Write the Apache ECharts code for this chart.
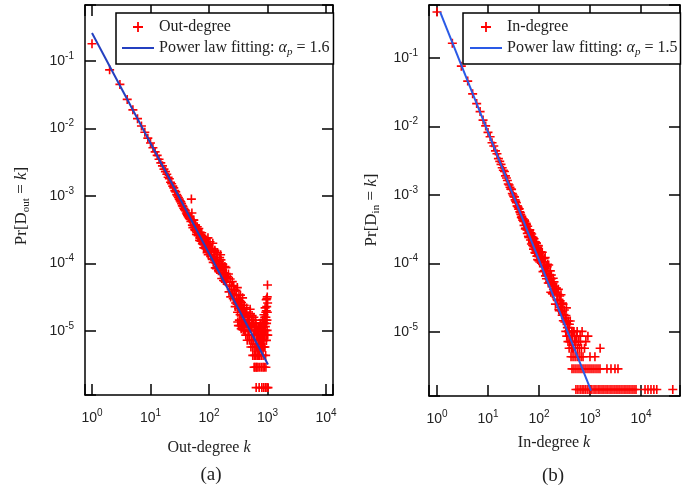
<!DOCTYPE html>
<html><head><meta charset="utf-8">
<script src="https://cdn.jsdelivr.net/npm/echarts@6.0.0/dist/echarts.min.js"></script>
<style>html,body{margin:0;padding:0;background:#fff}#c{width:690px;height:487px}</style>
</head><body><div id="c"></div>
<script>
// ---------- data ----------
const outDegree = [
[1,0.18],[2,0.074],[3,0.045],[4,0.027],[5,0.0189],[6,0.014],[7,0.0109],[8,0.0088],[9,0.0072],[10,0.0061],
[11,0.0052],[12,0.0045],[13,0.0040],[14,0.0035],[15,0.0031],[16,0.0028],[17,0.0025],[18,0.0023],[19,0.0021],[20,0.0019],
[21,0.0018],[22,0.0016],[23,0.00152],[24,0.0014],[25,0.00132],[26,0.0012],[27,0.00115],[28,0.00105],[29,0.0010],[30,0.00095],
[31,0.0009],[32,0.00085],[33,0.00082],[34,0.00077],[35,0.00072],[36,0.0007],[37,0.00066],[38,0.00063],[39,0.00062],[40,0.0006],
[41,0.00056],[42,0.00054],[43,0.00052],[44,0.0005],[45,0.00049],[46,0.00047],[47,0.00046],[48,0.00045],[49,0.00042],
[50,9.0e-4],[51,5.6e-4],[52,3.7e-4],[54,4.4e-4],[56,3.6e-4],[58,3.1e-4],[60,3.5e-4],[62,2.9e-4],[64,3.1e-4],[66,2.6e-4],
[68,2.9e-4],[70,2.4e-4],[72,2.7e-4],[74,2.2e-4],[76,2.5e-4],[78,2.0e-4],[80,2.3e-4],[82,1.9e-4],[84,2.2e-4],[86,1.75e-4],
[88,2.1e-4],[90,1.8e-4],[92,2.0e-4],[94,1.55e-4],[96,2.4e-4],[98,1.7e-4],[100,1.6e-4],
[104,2.1e-4],[106,1.6e-4],[108,1.26e-4],[112,1.66e-4],[116,2.0e-4],[118,1.04e-4],[120,1.17e-4],[124,1.5e-4],[128,8.6e-5],
[132,1.45e-4],[136,1.08e-4],[140,1.45e-4],[142,8.9e-5],[145,7.8e-5],[150,1.07e-4],[155,8.4e-5],[158,1.35e-4],[160,1.13e-4],
[165,6.0e-5],[170,9.0e-5],[175,7.2e-5],[180,8.8e-5],[185,5.5e-5],[190,7.0e-5],[195,8.7e-5],[200,5.3e-5],[210,6.4e-5],
[220,3.8e-5],[230,5.9e-5],[240,4.1e-5],[250,5.4e-5],[260,3.0e-5],[270,4.1e-5],[280,2.3e-5],[290,4.0e-5],[300,2.9e-5],
[305,4.4e-5],[310,1.36e-5],[315,2.9e-5],[320,2.15e-5],[325,3.4e-5],[330,1.45e-5],[335,2.8e-5],[340,1.75e-5],[345,3.4e-5],
[350,2.03e-5],[355,1.08e-5],[360,2.65e-5],[365,1.73e-5],[370,1.27e-5],[375,3.1e-5],[380,1.94e-5],[385,1.04e-5],[390,2.1e-5],
[395,1.37e-5],[400,2.4e-5],[410,1.0e-5],[420,1.8e-5],[430,1.33e-5],[440,2.2e-5],[450,7.3e-6],[460,1.45e-5],[470,1.0e-5],
[480,1.67e-5],[490,7.3e-6],[500,1.16e-5],[510,1.8e-5],[520,5.8e-6],[530,1.16e-5],[540,7.25e-6],[550,1.3e-5],[560,4.35e-6],
[570,8.7e-6],[580,1.3e-5],[590,5.8e-6],[600,8.7e-6],[610,2.9e-6],[620,1.02e-5],[630,4.35e-6],[640,7.25e-6],[650,1.16e-5],
[660,2.9e-6],[670,5.8e-6],[680,8.7e-6],[690,4.35e-6],[700,7.25e-6],
[710,5.8e-6],[720,1.0e-5],[730,4.35e-6],[740,7.25e-6],[750,1.3e-5],[760,5.8e-6],[770,8.7e-6],[780,4.35e-6],[790,1.16e-5],
[800,7.25e-6],[810,5.8e-6],[820,1.45e-5],[830,8.7e-6],[840,4.35e-6],[850,1.02e-5],[860,7.25e-6],[870,1.74e-5],[880,5.8e-6],
[890,1.3e-5],[900,8.7e-6],[910,2.2e-5],[920,1.16e-5],[930,4.35e-6],[940,1.6e-5],[950,2.9e-5],[955,2.0e-5],[960,7.25e-6],
[965,1.3e-5],[970,2.3e-5],[975,3.0e-5],[980,1.45e-5],[985,1.02e-5],[990,3.2e-5],[995,1.9e-5],[1000,4.8e-5],[1005,2.6e-5],[1010,8.7e-6]
];
const outDegreeMore = [
[53,3.4e-4],[55,4.4e-4],[57,3.2e-4],[59,3.7e-4],[61,2.7e-4],[63,3.5e-4],[65,2.6e-4],[67,3.3e-4],[69,2.2e-4],[71,2.9e-4],
[73,2.15e-4],[75,2.85e-4],[77,1.97e-4],[79,2.5e-4],[81,1.71e-4],[83,2.3e-4],[85,1.68e-4],[87,2.3e-4],[89,1.64e-4],[91,2.1e-4],
[93,1.45e-4],[95,1.86e-4],[97,1.35e-4],[99,1.9e-4],[102,1.52e-4],[110,1.6e-4],[114,1.15e-4],[122,1.35e-4],[126,1.57e-4],
[130,1.12e-4],[134,8.4e-5],[138,1.22e-4],[147,9.9e-5],[152,1.22e-4],[157,7.2e-5],[162,9.1e-5],[167,7.4e-5],[172,9.7e-5],
[177,5.6e-5],[182,7.0e-5],[187,9.0e-5],[192,6.2e-5],[197,7.1e-5],[205,6.0e-5],[215,7.0e-5],[225,4.8e-5],[235,3.2e-5],
[245,4.6e-5],[255,3.6e-5],[265,4.7e-5],[275,3.4e-5],[285,2.6e-5],[295,3.4e-5],[302,2.5e-5],
[308,1.9e-5],[318,1.2e-5],[328,2.4e-5],[338,1.2e-5],[348,2.5e-5],[358,1.45e-5],[368,2.2e-5],[378,1.16e-5],[388,1.6e-5],
[398,1.16e-5],[405,1.6e-5],[415,1.3e-5],[425,8.7e-6],[435,1.9e-5],[445,1.16e-5],[455,1.6e-5],[465,8.7e-6],[475,1.3e-5],
[485,1.02e-5],[495,1.45e-5],[505,2.1e-5],[515,1.16e-5],[525,7.25e-6],[535,1.45e-5],[545,1.7e-5],[555,5.8e-6],[565,1.16e-5],
[575,7.25e-6],[585,1.6e-5],[595,4.35e-6],[605,1.16e-5],[615,5.8e-6],[625,1.45e-5],[635,1.3e-5],[645,5.8e-6],[655,8.7e-6],
[665,4.35e-6],[675,1.02e-5],[685,5.8e-6],[695,1.16e-5],
[705,8.7e-6],[715,4.35e-6],[725,1.16e-5],[735,7.25e-6],[745,5.8e-6],[755,1.02e-5],[765,7.25e-6],[775,1.3e-5],[785,5.8e-6],
[795,8.7e-6],[805,1.02e-5],[815,7.25e-6],[825,5.8e-6],[835,1.16e-5],[845,7.25e-6],[855,5.8e-6],[865,1.3e-5],[875,8.7e-6],
[885,1.02e-5],[895,1.6e-5],[905,5.8e-6],[915,1.45e-5],[925,1.02e-5],[935,1.9e-5],[945,8.7e-6]
];
// degrees seen at the lowest probability levels (one, two ... nodes)
const outFloorP = [1.45e-6, 2.9e-6];
const outFloorK = [
  [640,720,800,860,920,980,1020],
  [590,640,690,740,790,840,880,940]
];
const outFit = [[1,0.26],[1020,3.2e-6]];

const inDegree = [
[1,0.47],[2,0.164],[3,0.076],[4,0.046],[5,0.0300],[6,0.0216],[7,0.0165],[8,0.0124],[9,0.0102],[10,0.0082],
[11,0.0071],[12,0.0058],[13,0.0052],[14,0.0044],[15,0.0040],[16,0.0034],[17,0.0031],[18,0.0028],[19,0.0025],[20,0.0023],
[21,0.0022],[22,0.0019],[23,0.00177],[24,0.00163],[25,0.00145],[26,0.0014],[27,0.0013],[28,0.00122],[29,0.00121],[30,0.00105],
[31,0.0010],[32,0.00095],[33,0.00094],[34,0.00085],[35,0.00081],[36,0.00077],[37,0.00069],[38,0.00069],[39,0.00066],[40,0.00062],
[41,0.00063],[42,0.00057],[43,0.00055],[44,0.00052],[45,0.00047],[46,0.00049],[47,0.00046],[48,0.00043],[49,0.00045],[50,0.00041],
[52,4.3e-4],[54,3.2e-4],[56,3.85e-4],[58,3.1e-4],[60,3.5e-4],[62,2.5e-4],[64,2.85e-4],[66,3.1e-4],[68,2.2e-4],[70,2.5e-4],
[72,2.7e-4],[74,2.0e-4],[76,2.25e-4],[78,1.62e-4],[80,2.3e-4],[82,1.8e-4],[84,2.05e-4],[86,1.42e-4],[88,2.0e-4],[90,1.52e-4],
[92,1.72e-4],[94,1.14e-4],[96,1.83e-4],[98,1.35e-4],[100,1.47e-4],[104,1.05e-4],[108,1.47e-4],[112,1.1e-4],[116,1.46e-4],
[120,7.6e-5],[124,1.06e-4],[128,7.9e-5],[132,1.22e-4],[136,8.3e-5],[140,6.0e-5],[145,9.0e-5],[150,6.6e-5],[155,9.5e-5],
[160,5.2e-5],[165,6.7e-5],[170,3.8e-5],[175,6.8e-5],[180,4.9e-5],[185,3.6e-5],[190,6.1e-5],[195,3.9e-5],[200,4.65e-5],
[210,2.55e-5],[220,4.4e-5],[230,2.9e-5],[240,4.2e-5],[250,2.05e-5],[260,2.85e-5],[270,3.5e-5],[280,2.0e-5],[290,2.65e-5],
[300,1.46e-5],[315,2.1e-5],[330,1.6e-5],[345,2.25e-5],[360,1.16e-5],[375,1.45e-5],[390,1.16e-5],[400,7.25e-6],[410,1.45e-5],
[425,8.7e-6],[440,1.02e-5],[460,5.8e-6],[480,1.02e-5],[500,7.25e-6]
];
const inDegreeMore = [
[51,3.6e-4],[53,4.1e-4],[55,3.3e-4],[57,3.7e-4],[59,2.75e-4],[61,3.1e-4],[63,2.4e-4],[65,3.0e-4],[67,2.4e-4],[69,2.8e-4],
[71,1.93e-4],[73,2.45e-4],[75,1.84e-4],[77,2.4e-4],[79,1.76e-4],[81,2.1e-4],[83,1.44e-4],[85,2.05e-4],[87,1.54e-4],[89,1.97e-4],
[91,1.28e-4],[93,1.69e-4],[95,1.31e-4],[97,1.8e-4],[99,1.1e-4],[102,1.42e-4],[106,1.27e-4],[110,1.47e-4],[114,1.06e-4],
[118,1.2e-4],[122,9.0e-5],[126,1.18e-4],[130,9.0e-5],[134,6.6e-5],[138,9.3e-5],[142,7.1e-5],[147,9.7e-5],[152,5.2e-5],
[157,6.8e-5],[162,5.5e-5],[167,7.8e-5],[172,5.3e-5],[177,6.0e-5],[182,3.7e-5],[187,5.1e-5],[192,4.2e-5],[197,5.4e-5],
[205,3.85e-5],[215,4.35e-5],[225,3.0e-5],[235,3.55e-5],[245,2.13e-5],[255,3.35e-5],[265,2.3e-5],[275,2.6e-5],[285,1.76e-5],
[295,2.55e-5],[308,1.8e-5],[322,1.4e-5],[338,1.74e-5],[352,1.45e-5],[368,1.3e-5],[382,1.02e-5],[395,1.3e-5]
];
const inFloorP = [1.45e-6, 2.9e-6, 4.35e-6, 5.8e-6, 7.25e-6, 8.7e-6, 1.02e-5];
const inFloorK = [
  [530,580,640,700,760,830,910,1000,1090,1200,1310,1440,1570,1720,1880,2060,2250,2470,2700,2960,3240,3540,3870,4240,4650,5080,5560,6080,6670,7300,7980,12000,13700,15700,17900,20400,42000],
  [444,485,531,582,637,697,762,834,914,1000,1094,1197,1312,1436,1571,2150,2580,3090,3540],
  [425,465,510,560,610,670,730,1000,1250],
  [390,430,470,520,570,620,680,780,1580],
  [370,420,455,530,590,650,830],
  [350,395,445,500,545,640,910],
  [335,380,440,480,560,700]
];
const inFit = [[1.15,0.47],[1050,1.4e-6]];

const xRangeOut = [0.759, 13180];
const yRangeOut = [1.127e-6, 0.676];
const xRangeIn = [0.697, 58200];
const yRangeIn = [1.164e-6, 0.594];

const nameOut = 'Out-degree', nameIn = 'In-degree';
const fitOutName = 'Power law fitting: αp = 1.6';
const fitInName = 'Power law fitting: αp = 1.5';
const legendRich = {
  'Out-degree': 'Out-degree',
  'In-degree': 'In-degree',
  'Power law fitting: αp = 1.6': 'Power law fitting: {i|α}{p|p} = 1.6',
  'Power law fitting: αp = 1.5': 'Power law fitting: {i|α}{p|p} = 1.5'
};

// ---------- build ----------
function withFloors(points, more, floorP, floorK) {
  const res = points.concat(more);
  floorK.forEach((ks, i) => ks.forEach(k => res.push([k, floorP[i]])));
  return res;
}
const crossPath = 'path://M4.1,0H5.9V4.1H10V5.9H5.9V10H4.1V5.9H0V4.1H4.1Z';
const linePath = 'path://M0,0H32V2H0Z';
const SANS = 'Liberation Sans', SERIF = 'Liberation Serif', TXT = '#222';

function powLabel(v) {
  const e = Math.log10(v), r = Math.round(e);
  if (Math.abs(e - r) > 1e-6) return '';
  return '{b|10}{s|' + r + '}';
}
const tickRich = {
  b: {fontFamily: SANS, fontSize: 14, lineHeight: 20, color: TXT},
  s: {fontFamily: SANS, fontSize: 10, lineHeight: 8, verticalAlign: 'top', color: TXT}
};
function axis(grid, pos, range, show, isX) {
  return {
    type: 'log', logBase: 10, gridIndex: grid, position: pos, min: range[0], max: range[1],
    axisLine: {show: true, onZero: false, lineStyle: {color: '#000', width: 1.5}},
    axisTick: {show: true, inside: true, length: 11, lineStyle: {color: '#000', width: 1.5}},
    minorTick: {show: false}, splitLine: {show: false}, minorSplitLine: {show: false},
    axisLabel: {show: show, margin: isX ? 13 : 11, formatter: powLabel, rich: tickRich, color: TXT},
    axisPointer: {show: false}
  };
}
function legend(left, padding, names) {
  return {
    left: left, top: 13, orient: 'vertical', padding: padding,
    itemWidth: 32, itemHeight: 10, itemGap: 1, selectedMode: false, symbolKeepAspect: true,
    borderColor: '#000', borderWidth: 1.5, backgroundColor: '#fff', borderRadius: 0,
    data: [{name: names[0], icon: crossPath}, {name: names[1], icon: linePath}],
    formatter: n => legendRich[n],
    textStyle: {fontFamily: SERIF, fontSize: 16, lineHeight: 20, color: TXT,
      rich: {
        i: {fontFamily: SERIF, fontSize: 16, fontStyle: 'italic', lineHeight: 20, color: TXT},
        p: {fontFamily: SERIF, fontSize: 11, fontStyle: 'italic', lineHeight: 12, verticalAlign: 'bottom', color: TXT}
      }}
  };
}
function label(text, x, y, size, rot) {
  return {
    type: 'text', x: x, y: y, rotation: rot || 0, silent: true,
    style: {
      text: text, fill: TXT, font: size + 'px "' + SERIF + '"', lineHeight: 20,
      align: 'center', verticalAlign: 'middle', textAlign: 'center', textVerticalAlign: 'middle',
      rich: {
        i: {font: 'italic ' + size + 'px "' + SERIF + '"', fill: TXT, lineHeight: 20},
        s: {font: '11px "' + SERIF + '"', fill: TXT, lineHeight: 12, verticalAlign: 'bottom'}
      }
    }
  };
}
function scatter(name, idx, data) {
  return {name: name, type: 'scatter', xAxisIndex: idx, yAxisIndex: idx, data: data,
    symbol: crossPath, symbolSize: 9, symbolKeepAspect: true, silent: true, z: 2,
    itemStyle: {color: '#ff0000', opacity: 1}};
}
function fit(name, idx, data, color) {
  return {name: name, type: 'line', xAxisIndex: idx, yAxisIndex: idx, data: data,
    symbol: 'none', silent: true, z: 3, lineStyle: {color: color, width: 2}, itemStyle: {color: color}};
}

const chart = echarts.init(document.getElementById('c'), null, {renderer: 'canvas'});
chart.setOption({
  animation: false,
  backgroundColor: '#fff',
  grid: [
    {left: 85, top: 5, width: 248, height: 390},
    {left: 429, top: 5, width: 251, height: 391}
  ],
  xAxis: [axis(0, 'bottom', xRangeOut, true, true), axis(0, 'top', xRangeOut, false, true),
          axis(1, 'bottom', xRangeIn, true, true), axis(1, 'top', xRangeIn, false, true)],
  yAxis: [axis(0, 'left', yRangeOut, true, false), axis(0, 'right', yRangeOut, false, false),
          axis(1, 'left', yRangeIn, true, false), axis(1, 'right', yRangeIn, false, false)],
  legend: [legend(116, [4, 4, 6, 6], [nameOut, fitOutName]),
           legend(463, [4, 3, 6, 7], [nameIn, fitInName])],
  series: [
    scatter(nameOut, 0, withFloors(outDegree, outDegreeMore, outFloorP, outFloorK)),
    fit(fitOutName, 0, outFit, '#2440c0'),
    scatter(nameIn, 2, withFloors(inDegree, inDegreeMore, inFloorP, inFloorK)),
    fit(fitInName, 2, inFit, '#2a5ae6')
  ],
  graphic: [
    label('Out-degree {i|k}', 209, 448, 16),
    label('In-degree {i|k}', 554, 443, 16),
    label('(a)', 211, 475, 19),
    label('(b)', 553, 476, 19),
    label('Pr[D{s|out} = {i|k}]', 22, 206, 17, Math.PI / 2),
    label('Pr[D{s|in} = {i|k}]', 372, 210, 17, Math.PI / 2)
  ]
});
</script></body></html>
